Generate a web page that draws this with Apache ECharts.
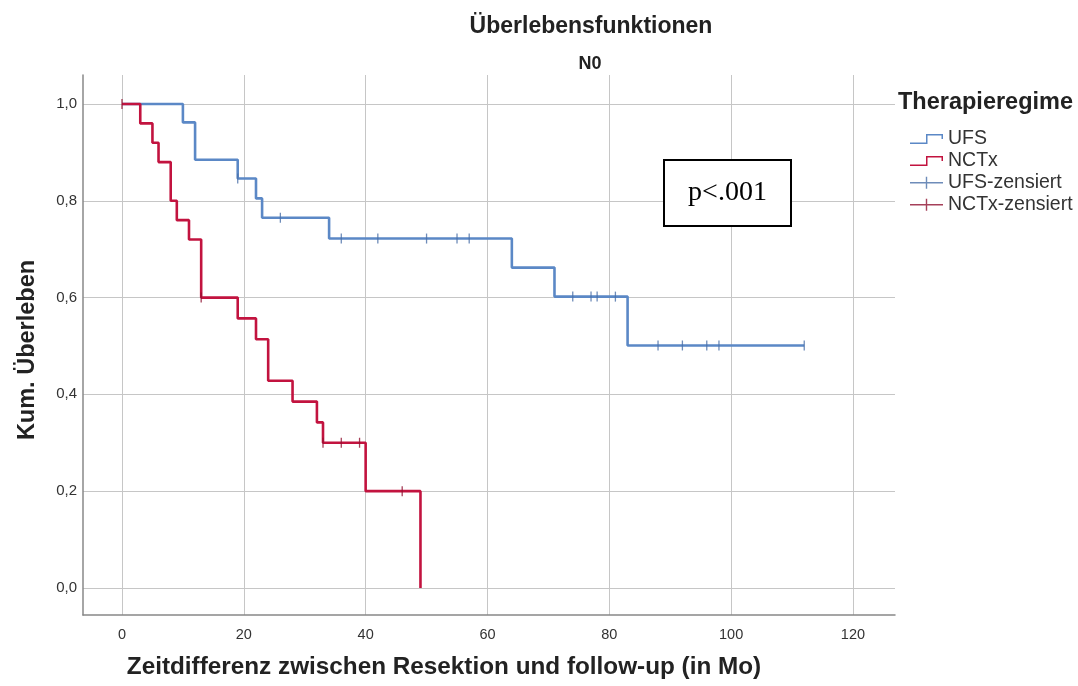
<!DOCTYPE html>
<html>
<head>
<meta charset="utf-8">
<script src="https://cdn.jsdelivr.net/npm/echarts@6/dist/echarts.min.js"></script>
<style>
html,body{margin:0;padding:0;background:#fff;}
#chart{width:1078px;height:686px;}
</style>
</head>
<body>
<div id="chart"></div>
<script>
// ---- data ----
const titleText = 'Überlebensfunktionen';
const subtitleText = 'N0';
const xAxisTitle = 'Zeitdifferenz zwischen Resektion und follow-up (in Mo)';
const yAxisTitle = 'Kum. Überleben';
const legendTitle = 'Therapieregime';
const xTicks = [0, 20, 40, 60, 80, 100, 120];
const yTicks = [0, 0.2, 0.4, 0.6, 0.8, 1.0];

// UFS: step times and survival levels
const ufsTimes = [0, 10, 12, 19, 22, 23, 34, 64, 71, 83, 112];
const ufsSurv  = [1.0, 0.962, 0.885, 0.846, 0.805, 0.765, 0.722, 0.662, 0.602, 0.501, 0.501];
const ufsCensTimes = [19, 26, 36, 42, 50, 55, 57, 74, 77, 78, 81, 88, 92, 96, 98, 112];

// NCTx
const nctTimes = [0, 3, 5, 6, 8, 9, 11, 13, 19, 22, 24, 28, 32, 33, 40, 49];
const nctSurv  = [1.0, 0.960, 0.920, 0.880, 0.800, 0.760, 0.720, 0.600, 0.557, 0.514, 0.428, 0.385, 0.342, 0.300, 0.200, 0.0];
const nctCensTimes = [0, 13, 33, 36, 39, 46];

const pText = 'p<.001';

// ---- helpers ----
function stepValueAt(times, surv, t) {
  let v = surv[0];
  for (let i = 0; i < times.length; i++) { if (times[i] <= t) v = surv[i]; }
  return v;
}
const ufsLine = ufsTimes.map((t, i) => [t, ufsSurv[i]]);
const nctLine = nctTimes.map((t, i) => [t, nctSurv[i]]);
const ufsCens = ufsCensTimes.map(t => [t, stepValueAt(ufsTimes, ufsSurv, t)]);
const nctCens = nctCensTimes.map(t => [t, stepValueAt(nctTimes, nctSurv, t)]);

const BLUE = '#5b88c6';
const RED = '#c2133f';
const FONT = '"Liberation Sans", Arial, sans-serif';

const stepIcon = 'path://M0,9.5 L16,9.5 L16,1 L33,1 L33,6 L31.5,6 L31.5,2.5 L17.5,2.5 L17.5,11 L0,11 Z';
const censIcon = 'path://M0,5.3 L15.8,5.3 L15.8,0 L17.2,0 L17.2,5.3 L33,5.3 L33,6.7 L17.2,6.7 L17.2,12 L15.8,12 L15.8,6.7 L0,6.7 Z';

const chart = echarts.init(document.getElementById('chart'), null, {renderer: 'canvas'});
const option = {
  backgroundColor: '#fff',
  animation: false,
  title: [
    {text: titleText, left: 591, top: 15, textAlign: 'center', padding: 0,
     textStyle: {fontFamily: FONT, fontSize: 23, fontWeight: 'bold', color: '#222'}},
    {text: subtitleText, left: 590, top: 55, textAlign: 'center', padding: 0,
     textStyle: {fontFamily: FONT, fontSize: 18, fontWeight: 'bold', color: '#222'}},
    {text: legendTitle, left: 898, top: 91, padding: 0,
     textStyle: {fontFamily: FONT, fontSize: 23.5, fontWeight: 'bold', color: '#222'}}
  ],
  grid: {left: 83, right: 183, top: 75, bottom: 71, containLabel: false, outerBoundsMode: 'none'},
  legend: {
    orient: 'vertical', left: 910, top: 129, padding: 0,
    itemWidth: 33, itemHeight: 12, itemGap: 1.9,
    textStyle: {fontFamily: FONT, fontSize: 19.5, color: '#333', lineHeight: 18.5},
    data: [
      {name: 'UFS', icon: stepIcon},
      {name: 'NCTx', icon: stepIcon},
      {name: 'UFS-zensiert', icon: censIcon},
      {name: 'NCTx-zensiert', icon: censIcon}
    ]
  },
  xAxis: {
    type: 'value', min: -6.4, max: 126.9,
    name: xAxisTitle, nameLocation: 'middle', nameGap: 40,
    nameTextStyle: {fontFamily: FONT, fontSize: 24.3, fontWeight: 'bold', color: '#222', padding: [0, 90, 0, 0]},
    axisLine: {show: true, onZero: false, lineStyle: {color: '#888', width: 1.5}},
    axisTick: {show: false, customValues: xTicks},
    axisLabel: {customValues: xTicks, fontFamily: FONT, fontSize: 14.5, color: '#333', margin: 12},
    splitLine: {show: true, lineStyle: {color: '#c6c6c6', width: 1}}
  },
  yAxis: {
    type: 'value', min: -0.056, max: 1.06,
    name: yAxisTitle, nameLocation: 'middle', nameGap: 43, nameRotate: 90,
    nameTextStyle: {fontFamily: FONT, fontSize: 23.5, fontWeight: 'bold', color: '#222', padding: [0, 10, 0, 0]},
    axisLine: {show: true, onZero: false, lineStyle: {color: '#888', width: 1.5}},
    axisTick: {show: false, customValues: yTicks},
    axisLabel: {customValues: yTicks, fontFamily: FONT, fontSize: 15, color: '#333', margin: 6,
      formatter: v => v.toFixed(1).replace('.', ',')},
    splitLine: {show: true, lineStyle: {color: '#c6c6c6', width: 1}}
  },
  series: [
    {name: 'UFS', type: 'line', step: 'end', data: ufsLine, showSymbol: false, symbol: 'none',
     color: BLUE, lineStyle: {color: BLUE, width: 2.6}, z: 3},
    {name: 'NCTx', type: 'line', step: 'end', data: nctLine, showSymbol: false, symbol: 'none',
     color: RED, lineStyle: {color: RED, width: 2.6}, z: 4},
    {name: 'UFS-zensiert', type: 'scatter', data: ufsCens, symbol: 'rect', symbolSize: [1.3, 10],
     color: BLUE, itemStyle: {color: '#4a6fa8'}, z: 5},
    {name: 'NCTx-zensiert', type: 'scatter', data: nctCens, symbol: 'rect', symbolSize: [1.3, 10],
     color: RED, itemStyle: {color: '#8e1030'}, z: 6}
  ],
  graphic: [
    {type: 'rect', x: 664, y: 160, shape: {x: 0, y: 0, width: 127, height: 66},
     style: {fill: '#fff', stroke: '#000', lineWidth: 2}, z: 10},
    {type: 'text', x: 727.5, y: 193,
     style: {text: pText, fontFamily: '"Liberation Serif", "Times New Roman", serif', fontSize: 28,
       fill: '#000', align: 'center', verticalAlign: 'middle'}, z: 11}
  ]
};
chart.setOption(option);
</script>
</body>
</html>
